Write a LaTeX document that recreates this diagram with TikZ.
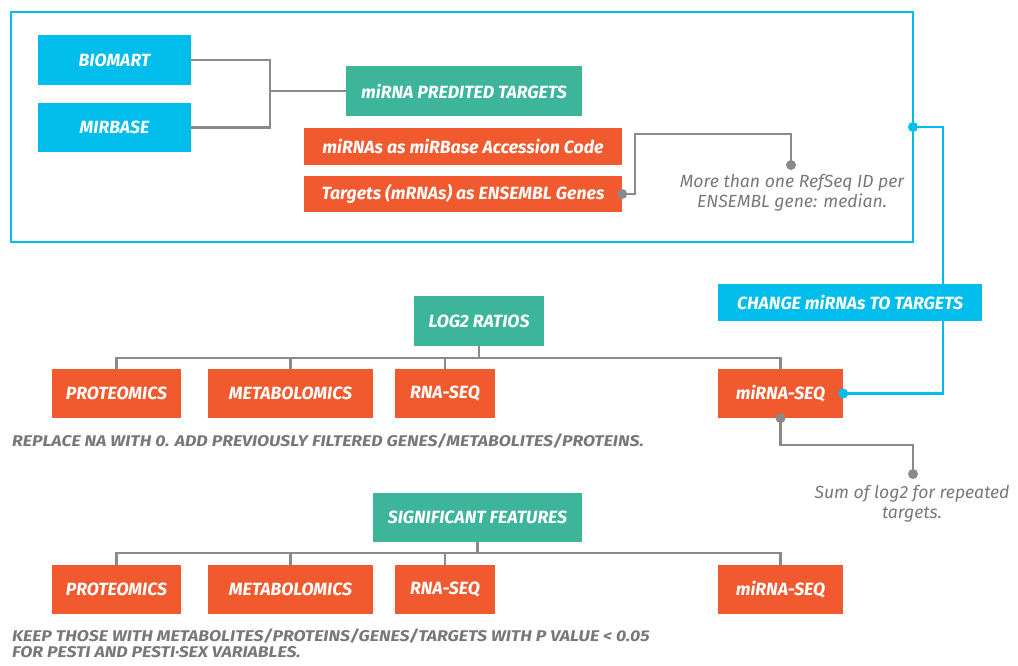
\documentclass[tikz,border=0pt]{standalone}
\usepackage{fontspec}
\setmainfont{Fira Sans}
\definecolor{cblue}{HTML}{00BDEB}
\definecolor{cgreen}{HTML}{3DB59B}
\definecolor{corange}{HTML}{F15A2E}
\definecolor{cgrey}{HTML}{8A8A8A}
\definecolor{ctext}{HTML}{77787B}
\begin{document}
\begin{tikzpicture}[x=1pt,y=-1pt,
  bx/.style={rectangle, inner sep=0pt, text=white, font=\fontsize{17.7}{19}\selectfont\bfseries\itshape},
  bbox/.style={bx, fill=cblue},
  gbox/.style={bx, fill=cgreen},
  obox/.style={bx, fill=corange},
  gline/.style={draw=cgrey, line width=2.9pt},
  bline/.style={draw=cblue, line width=2.2pt},
  gdot/.style={circle, fill=cgrey, inner sep=0pt, minimum size=10pt},
  bdot/.style={circle, fill=cblue, inner sep=0pt, minimum size=10pt},
  note/.style={text=ctext, align=center, font=\fontsize{17.6}{20}\selectfont\itshape},
  captxt/.style={text=ctext, align=left, anchor=west, inner sep=0pt, font=\fontsize{15.5}{15}\selectfont\bfseries\itshape}
]
\useasboundingbox (0,0) rectangle (1018,666);
% frame
\draw[bline] (11,12) rectangle (913,242);
\coordinate (fr) at (913,127);
% top boxes
\node[bbox, minimum width=153pt, minimum height=50pt] (biomart) at (114.5,60) {BIOMART};
\node[bbox, minimum width=153pt, minimum height=49pt] (mirbase) at (114.5,127.5) {MIRBASE};
\node[gbox, minimum width=236pt, minimum height=50pt] (pred) at (464,91) {miRNA PREDITED TARGETS};
\node[obox, minimum width=318pt, minimum height=37pt] (acc) at (463,146.5) {miRNAs as miRBase Accession Code};
\node[obox, minimum width=318pt, minimum height=36pt] (targ) at (463,194) {Targets (mRNAs) as ENSEMBL Genes};
\coordinate (j1) at (270,91);
\draw[gline] (biomart.east) -| (j1) |- (mirbase.east);
\draw[gline] (j1) -- (pred.west);
% note 1
\coordinate (n1a) at (635,194);
\coordinate (n1b) at (635,134);
\coordinate (n1c) at (791,165);
\draw[gline, line width=2.4pt] (targ.east) -- (n1a) -- (n1b) -| (n1c);
\node[gdot] (d1) at (targ.east) {};
\node[gdot] (d2) at (n1c) {};
\node[note] (note1) at (792,193) {More than one RefSeq ID per\\ENSEMBL gene: median.};
% blue link
\node[obox, minimum width=125pt, minimum height=49pt] (s1) at (780.5,393.5) {miRNA-SEQ};
\coordinate (b1) at (943,127);
\draw[bline] (fr) -- (b1) |- (s1.east);
\node[bbox, minimum width=264pt, minimum height=37pt] (chg) at (850,302.5) {CHANGE miRNAs TO TARGETS};
\node[bdot] (d3) at (fr) {};
\node[bdot] (d4) at (s1.east) {};
% log2 ratios
\node[gbox, minimum width=130pt, minimum height=50pt] (log2) at (479,321) {LOG2 RATIOS};
\node[obox, minimum width=129pt, minimum height=49pt] (p1) at (116.5,393.5) {PROTEOMICS};
\node[obox, minimum width=165pt, minimum height=49pt] (m1) at (290.5,393.5) {METABOLOMICS};
\node[obox, minimum width=100pt, minimum height=49pt] (r1) at (445,393.5) {RNA-SEQ};
\coordinate (bus1) at (479,358);
\draw[gline] (log2.south) -- (bus1);
\draw[gline] (p1.north) |- (bus1) -| (s1.north);
\draw[gline] (m1.north) -- (m1.north |- bus1);
\draw[gline] (r1.north) -- (r1.north |- bus1);
\node[captxt] (cap1) at (12,441) {\scalebox{1.14}[1]{REPLACE NA WITH 0. ADD PREVIOUSLY FILTERED GENES/METABOLITES/PROTEINS.}};
% note 2
\coordinate (n2a) at (780.5,445);
\coordinate (n2b) at (913,474);
\draw[gline, line width=2.4pt] (s1.south) -- (n2a) -| (n2b);
\node[gdot] (d5) at (s1.south) {};
\node[gdot] (d6) at (n2b) {};
\node[note] (note2) at (912,504) {Sum of log2 for repeated\\targets.};
% significant features
\node[gbox, minimum width=209pt, minimum height=49pt] (sig) at (477.5,517.5) {SIGNIFICANT FEATURES};
\node[obox, minimum width=129pt, minimum height=49pt] (p2) at (116.5,589.5) {PROTEOMICS};
\node[obox, minimum width=165pt, minimum height=49pt] (m2) at (290.5,589.5) {METABOLOMICS};
\node[obox, minimum width=100pt, minimum height=49pt] (r2) at (445,589.5) {RNA-SEQ};
\node[obox, minimum width=125pt, minimum height=49pt] (s2) at (780.5,589.5) {miRNA-SEQ};
\coordinate (bus2) at (477.5,553);
\draw[gline] (sig.south) -- (bus2);
\draw[gline] (p2.north) |- (bus2) -| (s2.north);
\draw[gline] (m2.north) -- (m2.north |- bus2);
\draw[gline] (r2.north) -- (r2.north |- bus2);
\node[captxt] (cap2) at (12,645.5) {\scalebox{1.14}[1]{\begin{tabular}{@{}l@{}}KEEP THOSE WITH METABOLITES/PROTEINS/GENES/TARGETS WITH P VALUE < 0.05\\FOR PESTI AND PESTI·SEX VARIABLES.\end{tabular}}};
\end{tikzpicture}
\end{document}
